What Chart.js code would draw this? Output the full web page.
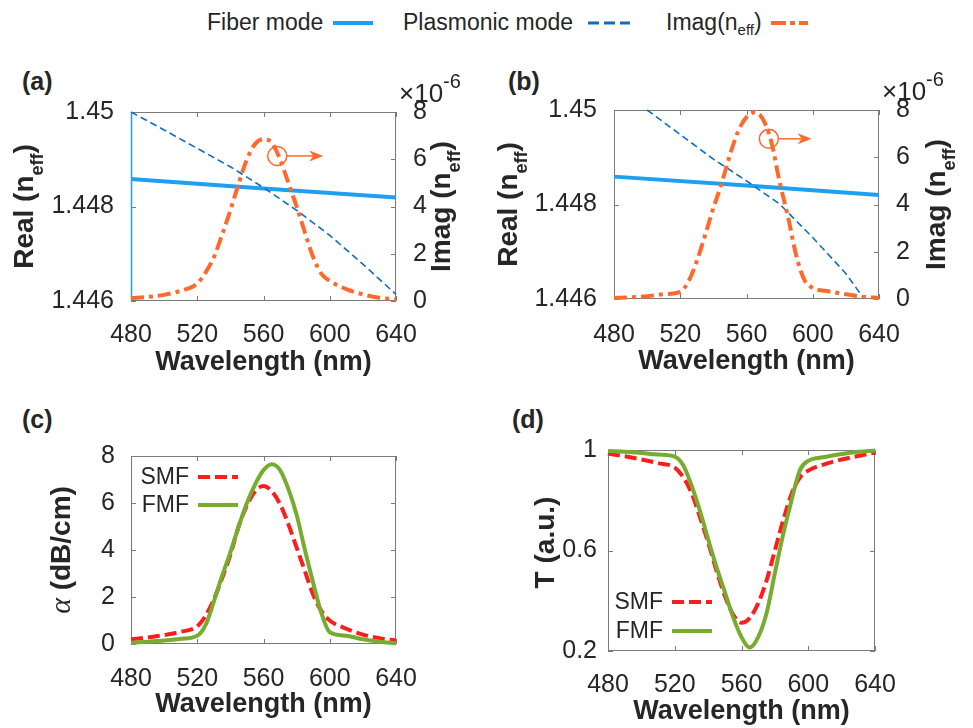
<!DOCTYPE html>
<html>
<head>
<meta charset="utf-8">
<title>Fiber mode / plasmonic mode coupling</title>
<script src="https://cdn.jsdelivr.net/npm/chart.js@4.4.1/dist/chart.umd.min.js"></script>
<style>
  html, body { margin: 0; background: #fff; }
  body { position: relative; width: 973px; height: 728px; overflow: hidden;
         font-family: 'Liberation Sans', Arial, Helvetica, sans-serif; color: #262626; }
  canvas { position: absolute; }
  .tag { position: absolute; font-weight: bold; font-size: 25px; line-height: 25px; }
  .lg { position: absolute; top: 11px; font-size: 23px; line-height: 23px; white-space: nowrap; }
  .lg sub { font-size: 15px; vertical-align: -5px; line-height: 0; }
  .sw { position: absolute; top: 13px; }
</style>
</head>
<body>

<!-- shared legend -->
<div class="lg" style="left:207px">Fiber mode</div>
<svg class="sw" style="left:333px" width="40" height="20"><line x1="0" y1="10" x2="40" y2="10" stroke="#1E9FF2" stroke-width="4"/></svg>
<div class="lg" style="left:403px">Plasmonic mode</div>
<svg class="sw" style="left:588px" width="42" height="20"><line x1="0" y1="10" x2="42" y2="10" stroke="#0F6DBE" stroke-width="3" stroke-dasharray="11 5"/></svg>
<div class="lg" style="left:666px">Imag(n<sub>eff</sub>)</div>
<svg class="sw" style="left:771px" width="37" height="20"><line x1="0" y1="10" x2="37" y2="10" stroke="#FF6A2C" stroke-width="4" stroke-dasharray="15 4 5 4"/></svg>

<div class="tag" style="left:22px;top:69px">(a)</div>
<div class="tag" style="left:508px;top:69px">(b)</div>
<div class="tag" style="left:22px;top:407px">(c)</div>
<div class="tag" style="left:512px;top:407px">(d)</div>

<canvas id="ca" width="480" height="340" style="left:0;top:60px"></canvas>
<canvas id="cb" width="490" height="340" style="left:483px;top:60px"></canvas>
<canvas id="cc" width="480" height="333" style="left:0;top:395px"></canvas>
<canvas id="cd" width="490" height="333" style="left:483px;top:395px"></canvas>

<script>
const FONT = "'Liberation Sans', Arial, Helvetica, sans-serif";
const INK = '#262626';
const AXIS = '#7a7a7a';
const C_FIBER = '#1E9FF2', C_PLAS = '#0F6DBE', C_IMAG = '#FF6A2C';
const C_SMF = '#FF1C1C', C_FMF = '#77AC30';

// wavelength grid (nm) and tick labels
const wl = [480, 490, 500, 510, 520, 525, 530, 535, 540, 545, 550, 555, 560,
            565, 570, 575, 580, 585, 590, 595, 600, 610, 620, 630, 640];
const xTicks = [480, 520, 560, 600, 640];
const realTicks = [1.446, 1.448, 1.45];
const imagTicks = [0, 2, 4, 6, 8];
const alphaTicks = [0, 2, 4, 6, 8];
const tTicks = [0.2, 0.6, 1];

// (a) SMF
const fiberWl = [480, 560, 640];
const fiberA = [1.44858, 1.44838, 1.44819];
const plasWlA = [480, 500, 520, 540, 560, 580, 600, 620, 640];
const plasA = [1.45, 1.44962, 1.44923, 1.44884, 1.4484, 1.44792, 1.44739, 1.44678, 1.44614];
const imagA = [0.12, 0.17, 0.26, 0.43, 0.74, 1.2, 1.85, 2.8, 3.84, 4.97, 6.0, 6.65, 6.85,
               6.7, 6.0, 5.0, 4.0, 2.9, 1.85, 1.15, 0.85, 0.5, 0.28, 0.14, 0.07]; // x1e-6

// (b) FMF
const fiberB = [1.44859, 1.4484, 1.4482];
const plasWlB = [500, 520, 540, 560, 580, 600, 620, 631];
const plasB = [1.45, 1.44948, 1.44896, 1.4485, 1.44801, 1.4473, 1.44654, 1.446];
const imagB = [0.04, 0.07, 0.12, 0.2, 0.3, 0.75, 1.6, 2.7, 3.85, 4.9, 6.1, 7.1, 7.7,
               7.9, 7.6, 6.65, 4.95, 3.5, 1.85, 0.8, 0.47, 0.32, 0.2, 0.1, 0.04];

// (c) loss, dB/cm
const alphaSMF = [0.2, 0.28, 0.38, 0.52, 0.75, 1.2, 1.9, 2.8, 3.8, 5.0, 5.9, 6.5, 6.72,
                  6.5, 5.95, 5.1, 4.1, 3.1, 2.1, 1.4, 1.0, 0.65, 0.4, 0.25, 0.15];
const alphaFMF = [0.05, 0.1, 0.15, 0.22, 0.35, 0.8, 1.8, 2.9, 3.9, 5.0, 6.0, 6.8, 7.4,
                  7.65, 7.4, 6.6, 5.5, 4.0, 2.6, 1.3, 0.5, 0.35, 0.2, 0.1, 0.03];

// (d) transmission
const transSMF = [0.986, 0.975, 0.962, 0.948, 0.93, 0.893, 0.83, 0.735, 0.632, 0.52, 0.42, 0.345, 0.312,
                  0.332, 0.39, 0.48, 0.6, 0.72, 0.825, 0.89, 0.918, 0.944, 0.962, 0.976, 0.99];
const transFMF = [0.996, 0.993, 0.988, 0.982, 0.974, 0.94, 0.86, 0.76, 0.645, 0.535, 0.435, 0.335, 0.255,
                  0.214, 0.255, 0.35, 0.51, 0.665, 0.8, 0.92, 0.957, 0.972, 0.984, 0.993, 0.998];

Chart.defaults.font.family = FONT;
Chart.defaults.color = INK;
Chart.defaults.animation = false;
Chart.defaults.responsive = false;
Chart.defaults.plugins.legend.display = false;
Chart.defaults.plugins.tooltip.enabled = false;
Chart.defaults.elements.point.radius = 0;
Chart.defaults.elements.line.borderCapStyle = 'butt';

const pts = (xs, ys) => xs.map((x, i) => ({ x, y: ys[i] }));
const fixTicks = list => s => { s.ticks = list.map(v => ({ value: v })); };
const B = s => `bold ${s}px ${FONT}`;
const N = s => `${s}px ${FONT}`;

const realTitle = [{ t: 'Real (n', f: B(28) }, { t: 'eff', f: B(18), dy: 10 }, { t: ')', f: B(28) }];
const imagTitle = [{ t: 'Imag (n', f: B(28) }, { t: 'eff', f: B(18), dy: 10 }, { t: ')', f: B(28) }];
const alphaTitle = [{ t: 'α', f: "italic 30px 'Liberation Serif', 'DejaVu Serif', serif" }, { t: ' (dB/cm)', f: B(28) }];
const tTitle = [{ t: 'T (a.u.)', f: B(28) }];
const expLabel = [{ t: '×10', f: N(26) }, { t: '-6', f: N(20), dy: -14 }];

function xAxis(o) {
  return {
    type: 'linear', min: 480, max: 640,
    afterBuildTicks: fixTicks(xTicks),
    ticks: { font: { size: 25 }, color: INK, padding: o.pad, maxRotation: 0, autoSkip: false, callback: v => String(v) },
    grid: { display: false }, border: { display: false },
    title: { display: true, text: 'Wavelength (nm)', color: INK, font: { size: 27, weight: 'bold' },
             padding: { top: 0, bottom: o.titlePad } },
    afterFit: s => { s.height = o.h; }
  };
}

function yAxis(o) {
  return {
    type: 'linear', position: o.pos || 'left', min: o.min, max: o.max,
    afterBuildTicks: fixTicks(o.ticks),
    ticks: { font: { size: 25 }, color: INK, padding: o.pad, autoSkip: false, callback: v => String(v) },
    grid: { display: false }, border: { display: false },
    afterFit: s => { s.width = o.w; }
  };
}

function richText(ctx, parts, x, y, rot, align) {
  ctx.save();
  ctx.translate(x, y);
  ctx.rotate(rot);
  ctx.textBaseline = 'alphabetic';
  ctx.textAlign = 'left';
  let w = 0;
  parts.forEach(p => { ctx.font = p.f; w += ctx.measureText(p.t).width; });
  let cx = align === 'left' ? 0 : -w / 2;
  parts.forEach(p => {
    ctx.font = p.f;
    ctx.fillStyle = INK;
    ctx.fillText(p.t, cx, p.dy || 0);
    cx += ctx.measureText(p.t).width;
  });
  ctx.restore();
}

// MATLAB-like box, inward ticks, titles with subscripts, annotations
const deco = {
  id: 'deco',
  beforeDatasetsDraw(chart, args, o) {
    const { ctx, chartArea: a, scales } = chart;
    const tl = 5;
    ctx.save();
    ctx.lineWidth = 1;
    ctx.strokeStyle = AXIS;
    ctx.beginPath();
    scales.x.ticks.forEach(t => {
      const p = Math.round(scales.x.getPixelForValue(t.value)) + 0.5;
      ctx.moveTo(p, a.bottom); ctx.lineTo(p, a.bottom - tl);
      ctx.moveTo(p, a.top); ctx.lineTo(p, a.top + tl);
    });
    scales.y.ticks.forEach(t => {
      const p = Math.round(scales.y.getPixelForValue(t.value)) + 0.5;
      ctx.moveTo(a.left, p); ctx.lineTo(a.left + tl, p);
      if (!scales.y1) { ctx.moveTo(a.right, p); ctx.lineTo(a.right - tl, p); }
    });
    if (scales.y1) scales.y1.ticks.forEach(t => {
      const p = Math.round(scales.y1.getPixelForValue(t.value)) + 0.5;
      ctx.moveTo(a.right, p); ctx.lineTo(a.right - tl, p);
    });
    ctx.stroke();
    const L = a.left + 0.5, R = a.right - 0.5, T = a.top + 0.5, Bt = a.bottom - 0.5;
    ctx.beginPath();
    ctx.moveTo(L, T); ctx.lineTo(R, T); ctx.lineTo(R, Bt); ctx.lineTo(L, Bt);
    ctx.stroke();
    ctx.strokeStyle = o.leftColor || AXIS;
    ctx.lineWidth = o.leftColor ? 1.5 : 1;
    ctx.beginPath(); ctx.moveTo(L, Bt); ctx.lineTo(L, T); ctx.stroke();
    ctx.restore();
  },
  afterDraw(chart, args, o) {
    const { ctx, chartArea: a, scales } = chart;
    const midY = (a.top + a.bottom) / 2;
    if (o.yTitle) richText(ctx, o.yTitle.parts, a.left - o.yTitle.off, midY + (o.yTitle.dy || 0), -Math.PI / 2);
    if (o.y1Title) richText(ctx, o.y1Title.parts, a.right + o.y1Title.off, midY, -Math.PI / 2);
    if (o.exponent) richText(ctx, o.exponent, a.right + 3, a.top - 10, 0, 'left');
    if (o.arrow) {
      const ys = scales[o.arrow.axis];
      const cx = scales.x.getPixelForValue(o.arrow.x), cy = ys.getPixelForValue(o.arrow.y);
      const ex = scales.x.getPixelForValue(o.arrow.toX);
      const r = 9.5;
      ctx.save();
      ctx.strokeStyle = C_IMAG; ctx.fillStyle = C_IMAG; ctx.lineWidth = 1.5;
      ctx.beginPath(); ctx.arc(cx, cy, r, 0, 2 * Math.PI); ctx.stroke();
      ctx.beginPath(); ctx.moveTo(cx + r, cy); ctx.lineTo(ex - 10, cy); ctx.stroke();
      ctx.beginPath();
      ctx.moveTo(ex, cy); ctx.lineTo(ex - 14, cy - 5.5); ctx.lineTo(ex - 10, cy); ctx.lineTo(ex - 14, cy + 5.5);
      ctx.closePath(); ctx.fill();
      ctx.restore();
    }
    if (o.legend) {
      const Lg = o.legend;
      chart.data.datasets.forEach((ds, i) => {
        const y = a.top + Lg.dy + i * Lg.gap;
        const x0 = a.left + Lg.dx;
        ctx.save();
        ctx.font = N(23); ctx.fillStyle = INK; ctx.textAlign = 'right'; ctx.textBaseline = 'middle';
        ctx.fillText(ds.label, x0 - 9, y + 1);
        ctx.strokeStyle = ds.borderColor; ctx.lineWidth = ds.borderWidth;
        ctx.setLineDash(ds.borderDash || []);
        ctx.beginPath(); ctx.moveTo(x0, y); ctx.lineTo(x0 + Lg.len, y); ctx.stroke();
        ctx.restore();
      });
    }
  }
};

// (a)
new Chart(document.getElementById('ca'), {
  type: 'line',
  data: { datasets: [
    { label: 'Fiber mode', data: pts(fiberWl, fiberA), yAxisID: 'y', borderColor: C_FIBER, borderWidth: 4, order: 2, clip: 4 },
    { label: 'Plasmonic mode', data: pts(plasWlA, plasA), yAxisID: 'y', borderColor: C_PLAS, borderWidth: 1.6,
      borderDash: [7, 4], order: 1, clip: 4 },
    { label: 'Imag(neff)', data: pts(wl, imagA), yAxisID: 'y1', borderColor: C_IMAG, borderWidth: 4,
      borderDash: [13, 5, 4, 5], cubicInterpolationMode: 'monotone', order: 0, clip: 4 }
  ] },
  options: {
    layout: { padding: { top: 52, left: 0, right: 0, bottom: 0 } },
    scales: {
      x: xAxis({ pad: 11.5, titlePad: 20.8, h: 99 }),
      y: yAxis({ min: 1.446, max: 1.45, ticks: realTicks, pad: 9, w: 131 }),
      y1: yAxis({ pos: 'right', min: 0, max: 8, ticks: imagTicks, pad: 9, w: 84 })
    },
    plugins: { deco: {
      yTitle: { parts: realTitle, off: 98 }, y1Title: { parts: imagTitle, off: 54 },
      exponent: expLabel, leftColor: C_FIBER,
      arrow: { axis: 'y1', x: 568.3, y: 6.14, toX: 596.1 }
    } }
  },
  plugins: [deco]
});

// (b)
new Chart(document.getElementById('cb'), {
  type: 'line',
  data: { datasets: [
    { label: 'Fiber mode', data: pts(fiberWl, fiberB), yAxisID: 'y', borderColor: C_FIBER, borderWidth: 4, order: 2, clip: 4 },
    { label: 'Plasmonic mode', data: pts(plasWlB, plasB), yAxisID: 'y', borderColor: C_PLAS, borderWidth: 1.6,
      borderDash: [7, 4], order: 1, clip: 4 },
    { label: 'Imag(neff)', data: pts(wl, imagB), yAxisID: 'y1', borderColor: C_IMAG, borderWidth: 4,
      borderDash: [13, 5, 4, 5], cubicInterpolationMode: 'monotone', order: 0, clip: 4 }
  ] },
  options: {
    layout: { padding: { top: 50, left: 0, right: 0, bottom: 0 } },
    scales: {
      x: xAxis({ pad: 13, titlePad: 21.8, h: 101 }),
      y: yAxis({ min: 1.446, max: 1.45, ticks: realTicks, pad: 9, w: 131 }),
      y1: yAxis({ pos: 'right', min: 0, max: 8, ticks: imagTicks, pad: 9, w: 94 })
    },
    plugins: { deco: {
      yTitle: { parts: realTitle, off: 97 }, y1Title: { parts: imagTitle, off: 66 },
      exponent: expLabel,
      arrow: { axis: 'y1', x: 573.5, y: 6.78, toX: 599.3 }
    } }
  },
  plugins: [deco]
});

// (c)
new Chart(document.getElementById('cc'), {
  type: 'line',
  data: { datasets: [
    { label: 'SMF', data: pts(wl, alphaSMF), borderColor: C_SMF, borderWidth: 4, borderDash: [12, 5],
      cubicInterpolationMode: 'monotone', order: 1, clip: 4 },
    { label: 'FMF', data: pts(wl, alphaFMF), borderColor: C_FMF, borderWidth: 4,
      cubicInterpolationMode: 'monotone', order: 0, clip: 4 }
  ] },
  options: {
    layout: { padding: { top: 61, left: 0, right: 84, bottom: 0 } },
    scales: {
      x: xAxis({ pad: 12, titlePad: 6.8, h: 84 }),
      y: yAxis({ min: 0, max: 8, ticks: alphaTicks, pad: 8, w: 131 })
    },
    plugins: { deco: {
      yTitle: { parts: alphaTitle, off: 61 },
      legend: { dx: 67, dy: 21, gap: 28, len: 40 }
    } }
  },
  plugins: [deco]
});

// (d)
new Chart(document.getElementById('cd'), {
  type: 'line',
  data: { datasets: [
    { label: 'SMF', data: pts(wl, transSMF), borderColor: C_SMF, borderWidth: 4, borderDash: [12, 5],
      cubicInterpolationMode: 'monotone', order: 1, clip: 4 },
    { label: 'FMF', data: pts(wl, transFMF), borderColor: C_FMF, borderWidth: 4,
      cubicInterpolationMode: 'monotone', order: 0, clip: 4 }
  ] },
  options: {
    layout: { padding: { top: 55, left: 0, right: 98, bottom: 0 } },
    scales: {
      x: xAxis({ pad: 11, titlePad: 0, h: 77 }),
      y: yAxis({ min: 0.2, max: 1, ticks: tTicks, pad: 3, w: 125 })
    },
    plugins: { deco: {
      yTitle: { parts: tTitle, off: 54, dy: -8 },
      legend: { dx: 64, dy: 152, gap: 29, len: 40 }
    } }
  },
  plugins: [deco]
});
</script>
</body>
</html>
